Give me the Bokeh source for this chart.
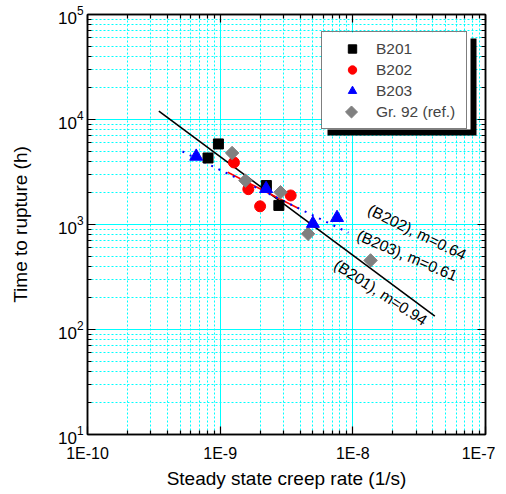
import math
from bokeh.plotting import figure
from bokeh.models import (LogAxis, FixedTicker, CustomJSTickFormatter, Legend,
                          LegendItem, BoxAnnotation, Range1d)
from bokeh.core.properties import value
from bokeh.embed import file_html
from bokeh.resources import INLINE

FONT = "Liberation Sans"

# ---- data ----
b201_x = [8.1e-10, 9.7e-10, 2.23e-9, 2.77e-9]
b201_y = [4300, 5850, 2350, 1520]
b202_x = [1.27e-9, 1.63e-9, 2.0e-9, 3.4e-9]
b202_y = [3900, 2170, 1490, 1890]
b203_x = [6.6e-10, 2.22e-9, 5.0e-9, 7.6e-9]
b203_y = [4450, 2190, 1020, 1160]
gr92_x = [1.23e-9, 1.55e-9, 2.85e-9, 4.6e-9, 1.36e-8]
gr92_y = [4800, 2620, 2030, 815, 455]

fit201_x = [3.45e-10, 4.15e-8]
fit201_y = [1.2e4, 134]
fit202_x = [1.14e-9, 3.87e-9]
fit202_y = [3150, 1430]
fit203_x = [5.2e-10, 9.27e-9]
fit203_y = [4955, 835]

ann_text = ["(B202), m=0.64", "(B203), m=0.61", "(B201), m=0.94"]
ann_x = [3.05e-8, 2.57e-8, 1.62e-8]
ann_y = [845, 507, 226]
ann_angle_deg = [-26, -23, -33]

x_major = [1e-10, 1e-9, 1e-8, 1e-7]
y_major = [1e1, 1e2, 1e3, 1e4, 1e5]
x_minor = [k * 10.0 ** e for e in (-10, -9, -8) for k in range(2, 10)]
y_minor = [k * 10.0 ** e for e in (1, 2, 3, 4) for k in range(2, 10)]

X_RANGE = (1e-10, 1e-7)
Y_RANGE = (10, 1e5)
FW, FH = 398, 420

p = figure(x_axis_type="log", y_axis_type="log",
           x_range=Range1d(*X_RANGE), y_range=Range1d(*Y_RANGE),
           frame_width=FW, frame_height=FH,
           min_border_left=87, min_border_right=10, min_border_top=14, min_border_bottom=46,
           output_backend="svg", toolbar_location=None,
           background_fill_color="white", border_fill_color="white")

xt = FixedTicker(ticks=x_major, minor_ticks=x_minor)
yt = FixedTicker(ticks=y_major, minor_ticks=y_minor)

def style_axis(ax):
    ax.axis_line_color = "black"
    ax.axis_line_width = 1.5
    ax.major_tick_line_color = "black"
    ax.minor_tick_line_color = "black"
    ax.major_tick_line_width = 1.2
    ax.minor_tick_line_width = 1.2
    ax.major_tick_in = 8
    ax.major_tick_out = 0
    ax.minor_tick_in = 4
    ax.minor_tick_out = 0
    ax.major_label_text_font = FONT
    ax.major_label_text_font_size = "16px"
    ax.major_label_text_color = "black"
    ax.axis_label_text_font = FONT
    ax.axis_label_text_font_size = "19px"
    ax.axis_label_text_font_style = "normal"
    ax.axis_label_text_color = "black"

xa = p.xaxis[0]
xa.ticker = xt
xa.formatter = CustomJSTickFormatter(code="return '1E' + Math.round(Math.log10(tick));")
xa.axis_label = "Steady state creep rate (1/s)"
style_axis(xa)
xa.major_label_standoff = 10
xa.axis_label_standoff = 3

ya = p.yaxis[0]
ya.ticker = yt
ya.axis_label = "Time to rupture (h)"
style_axis(ya)
ya.major_label_text_font_size = "17px"
ya.major_label_standoff = 4
ya.axis_label_standoff = 24

for loc, tk in (("above", xt), ("right", yt)):
    ax = LogAxis(ticker=tk)
    style_axis(ax)
    ax.major_label_text_font_size = "0px"
    ax.major_label_standoff = 0
    ax.formatter = CustomJSTickFormatter(code="return '';")
    p.add_layout(ax, loc)

p.outline_line_color = "black"
p.outline_line_width = 1.5

for g, tk in ((p.xgrid[0], xt), (p.ygrid[0], yt)):
    g.ticker = tk
    g.grid_line_color = "#00FFFF"
    g.grid_line_width = 1
    g.minor_grid_line_color = "#00FFFF"
    g.minor_grid_line_width = 1
    g.minor_grid_line_dash = "2 2"

# legend geometry (frame pixels) and its backdrop with drop shadow
def px_to_data(px, py):
    lx0, lx1 = math.log10(X_RANGE[0]), math.log10(X_RANGE[1])
    ly0, ly1 = math.log10(Y_RANGE[0]), math.log10(Y_RANGE[1])
    return (10 ** (lx0 + (lx1 - lx0) * px / FW), 10 ** (ly1 - (ly1 - ly0) * py / FH))

LEG_L, LEG_T, LEG_W, LEG_H, SH = 234, 18, 149, 97, 6
PAD, GW, ROW = 6, 48, 21
sl, st = px_to_data(LEG_L + SH, LEG_T + SH)
sr, sb = px_to_data(LEG_L + LEG_W + SH, LEG_T + LEG_H + SH)
p.add_layout(BoxAnnotation(left=sl, right=sr, top=st, bottom=sb, level="underlay",
                           fill_color="black", fill_alpha=1, line_color=None))
wl, wt = px_to_data(LEG_L, LEG_T)
wr, wb = px_to_data(LEG_L + LEG_W, LEG_T + LEG_H)
p.add_layout(BoxAnnotation(left=wl, right=wr, top=wt, bottom=wb, level="underlay",
                           fill_color="white", fill_alpha=1, line_color=None))

# fit lines
p.line(fit201_x, fit201_y, line_color="black", line_width=1.6)
p.line(fit202_x, fit202_y, line_color="red", line_width=1.6)
p.line(fit203_x, fit203_y, line_color="blue", line_width=2, line_dash="2 6")

# points
r2 = p.scatter(b202_x, b202_y, marker="circle", size=11, color="red")
r1 = p.scatter(b201_x, b201_y, marker="square", size=10, color="black")
r4 = p.scatter(gr92_x, gr92_y, marker="square", angle=math.pi / 4, size=9.5, color="#808080")
r3 = p.scatter(b203_x, b203_y, marker="triangle", size=13, color="blue")

# annotations
p.text(x=ann_x, y=ann_y, text=ann_text, angle=[math.radians(a) for a in ann_angle_deg],
       text_font=value(FONT), text_font_size="15.5px", text_color="black",
       text_align="center", text_baseline="middle")

# diamond legend symbol (legend markers cannot be rotated)
r4_leg = p.scatter(x=[], y=[], marker="square", size=1, fill_alpha=0, line_alpha=0)
dx, dy = px_to_data(LEG_L + PAD + GW / 2, LEG_T + PAD + 3 * ROW + ROW / 2)
p.scatter(x=[dx], y=[dy], marker="square", angle=math.pi / 4, size=8.5, color="#808080")

legend = Legend(items=[LegendItem(label="B201", renderers=[r1]),
                       LegendItem(label="B202", renderers=[r2]),
                       LegendItem(label="B203", renderers=[r3]),
                       LegendItem(label="Gr. 92 (ref.)", renderers=[r4_leg])],
                location=(LEG_L, FH - LEG_T - LEG_H),
                padding=PAD, spacing=0, margin=0,
                glyph_width=GW, glyph_height=ROW, label_height=ROW, label_width=84,
                label_standoff=0, label_text_font=FONT, label_text_font_size="15.5px",
                border_line_color="black", border_line_width=1,
                background_fill_alpha=0)
p.add_layout(legend)

open("out.html", "w").write(file_html(p, INLINE))
